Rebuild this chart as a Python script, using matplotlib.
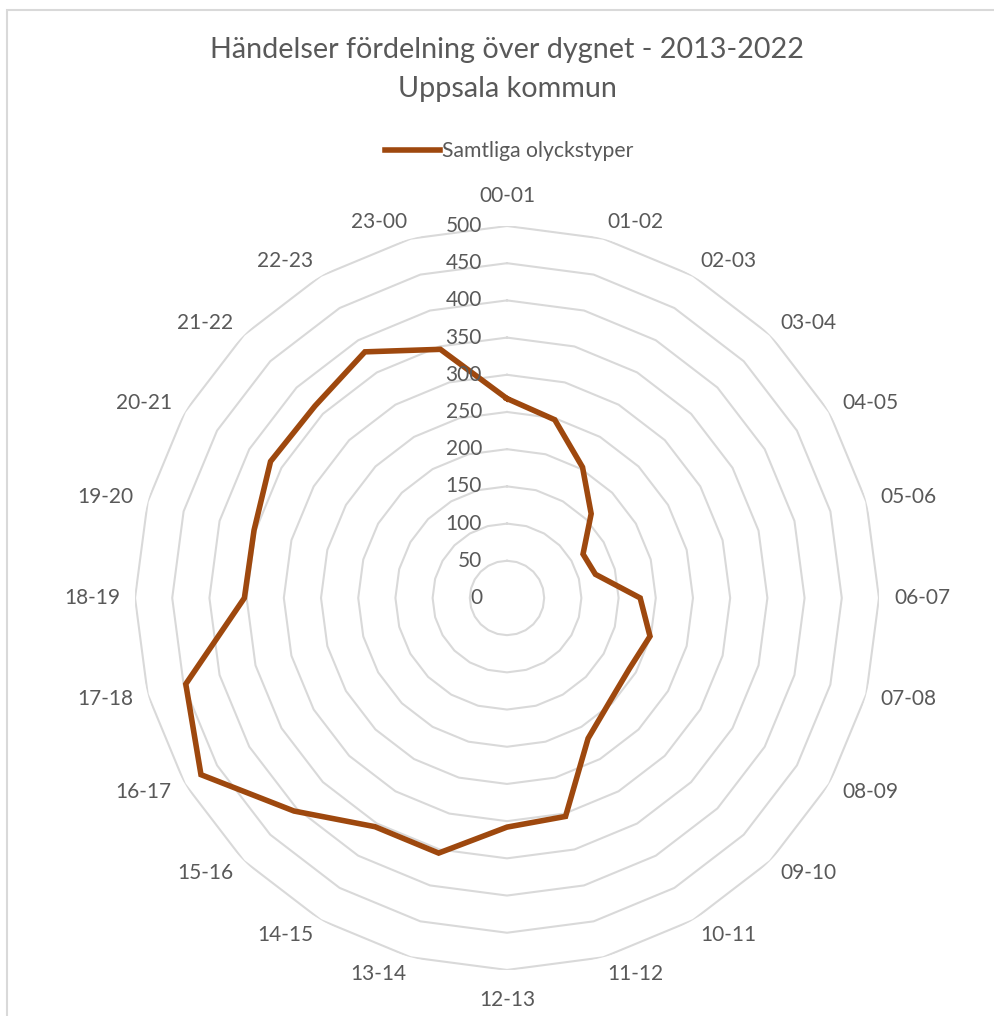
import matplotlib
matplotlib.use("Agg")
import matplotlib.pyplot as plt
import matplotlib.transforms as mtransforms
from matplotlib.lines import Line2D
from matplotlib.patches import Rectangle
import numpy as np

plt.rcParams['font.family'] = ['Lato', 'DejaVu Sans']

# timintervall och antal händelser
hours = ["00-01", "01-02", "02-03", "03-04", "04-05", "05-06", "06-07", "07-08",
         "08-09", "09-10", "10-11", "11-12", "12-13", "13-14", "14-15", "15-16",
         "16-17", "17-18", "18-19", "19-20", "20-21", "21-22", "22-23", "23-00"]
events = [268, 248, 203, 160, 118, 123, 179, 199,
          190, 196, 218, 304, 308, 355, 355, 405,
          475, 447, 353, 352, 367, 365, 382, 346]
ring_levels = [0, 50, 100, 150, 200, 250, 300, 350, 400, 450, 500]

title_lines = ["Händelser fördelning över dygnet - 2013-2022", "Uppsala kommun"]
series_name = "Samtliga olyckstyper"

text_color = "#595959"
grid_color = "#D9D9D9"
line_color = "#9E480E"

fig = plt.figure(figsize=(9.95, 10.16), dpi=100)
fig.patches.append(Rectangle((7 / 995, -0.01), 1.0, (1016 - 10) / 1016 + 0.01,
                             transform=fig.transFigure, fill=False,
                             edgecolor=grid_color, linewidth=1.5))

ax = fig.add_axes([0.1357, 0.0453, 0.7477, 0.7323], projection="polar")
ax.set_theta_zero_location("N")
ax.set_theta_direction(-1)
ax.set_ylim(0, 500)
ax.grid(False)
ax.spines["polar"].set_visible(False)
ax.set_xticks([])
ax.set_yticks([])

theta = np.linspace(0, 2 * np.pi, len(hours), endpoint=False)
theta_closed = np.append(theta, theta[0])

# polygonala rutnätslinjer som i Excel
for lvl in ring_levels[1:]:
    ax.plot(theta_closed, [lvl] * len(theta_closed), color=grid_color,
            linewidth=1.5, zorder=1)

vals = np.append(events, events[0])
ax.plot(theta_closed, vals, color=line_color, linewidth=4, zorder=3,
        solid_joinstyle="miter")

# värdeetiketter
lbl_trans = mtransforms.offset_copy(ax.transData, fig=fig, x=-25, y=0, units="dots")
for lvl in ring_levels:
    ax.text(0, lvl, str(lvl), transform=lbl_trans, ha="right", va="center",
            fontsize=15, color=text_color)

# kategorietiketter
for t, lab in zip(theta, hours):
    s, c = np.sin(t), np.cos(t)
    if abs(s) < 0.1:
        ha, dx, dy = "center", 0, 30 * c
    else:
        ha = "left" if s > 0 else "right"
        dx, dy = 15 * s, 17 * c
    tr = mtransforms.offset_copy(ax.transData, fig=fig, x=dx, y=dy, units="dots")
    ax.text(t, 500, lab, transform=tr, ha=ha, va="center", fontsize=15, color=text_color)

fig.text(0.5095, 1 - 50 / 1016, title_lines[0], ha="center", va="center",
         fontsize=20.7, color=text_color)
fig.text(0.5095, 1 - 89 / 1016, title_lines[1], ha="center", va="center",
         fontsize=20.7, color=text_color)

handle = Line2D([], [], color=line_color, linewidth=4)
leg = fig.legend([handle], [series_name], loc="center left",
                 bbox_to_anchor=(366 / 995, 1 - 151 / 1016),
                 frameon=False, fontsize=15.2, handlelength=2.6, handletextpad=0.12)
for txt in leg.get_texts():
    txt.set_color(text_color)

fig.savefig("out.png", dpi=100)
